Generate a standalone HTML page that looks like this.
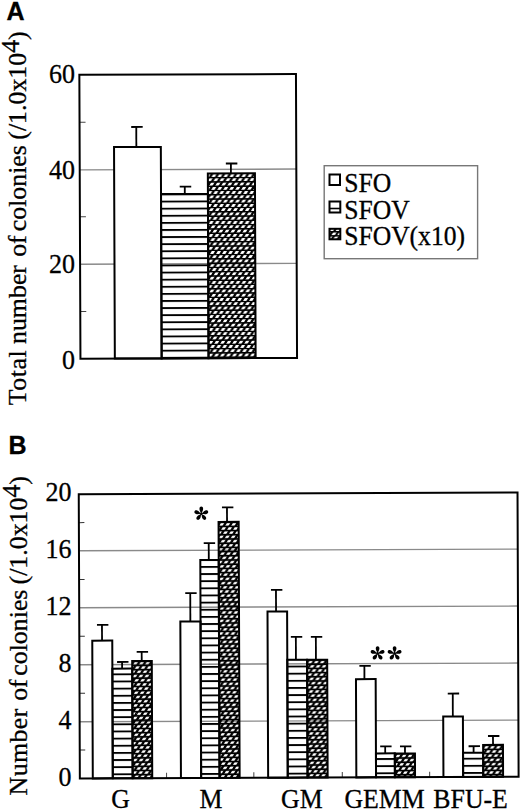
<!DOCTYPE html>
<html><head><meta charset="utf-8"><title>Figure</title>
<style>
html,body{margin:0;padding:0;background:#fff;}
body{width:520px;height:810px;overflow:hidden;font-family:"Liberation Serif",serif;}
svg{display:block;}
</style></head>
<body>
<svg width="520" height="810" viewBox="0 0 520 810">
<rect width="520" height="810" fill="#fff"/>
<defs>
<pattern id="hl" patternUnits="userSpaceOnUse" x="0" y="1.765" width="10" height="7.1"><rect y="0" width="10" height="1.85" fill="#000"/></pattern>
<pattern id="hlB" patternUnits="userSpaceOnUse" x="0" y="1.575" width="10" height="7.14"><rect y="0" width="10" height="1.85" fill="#000"/></pattern>
<pattern id="ht" patternUnits="userSpaceOnUse" x="-1.2" y="1.0" width="5.9" height="4.05" patternTransform="skewX(-45.7)"><path fill-rule="evenodd" fill="#000" d="M0,0 H5.9 V4.05 H0 Z M0.2,0.7 L3.6,0.7 L4.75,3.3 L1.35,3.3 Z"/></pattern>
</defs>
<g transform="rotate(-0.22 188 216)">
<line x1="79.9" y1="263.8" x2="296.5" y2="263.8" stroke="#8a8a8a" stroke-width="1.4"/>
<line x1="79.9" y1="169.44" x2="296.5" y2="169.44" stroke="#8a8a8a" stroke-width="1.4"/>
<line x1="79.9" y1="310.99" x2="85.9" y2="310.99" stroke="#444" stroke-width="1.0"/>
<line x1="79.9" y1="216.38" x2="85.9" y2="216.38" stroke="#444" stroke-width="1.0"/>
<line x1="79.9" y1="121.76" x2="85.9" y2="121.76" stroke="#444" stroke-width="1.0"/>
<line x1="136.6" y1="146.8" x2="136.6" y2="126.8" stroke="#000" stroke-width="1.8"/>
<line x1="131.55" y1="126.8" x2="143.05" y2="126.8" stroke="#000" stroke-width="1.8"/>
<line x1="184.9" y1="194.0" x2="184.9" y2="186.6" stroke="#000" stroke-width="1.8"/>
<line x1="179.85" y1="186.6" x2="191.35" y2="186.6" stroke="#000" stroke-width="1.8"/>
<line x1="231.1" y1="173.6" x2="231.1" y2="163.67" stroke="#000" stroke-width="1.8"/>
<line x1="226.05" y1="163.67" x2="237.55" y2="163.67" stroke="#000" stroke-width="1.8"/>
<rect x="114.3" y="146.8" width="46.80" height="211.50" fill="#fff" stroke="#000" stroke-width="2"/>
<rect x="161.1" y="194.0" width="46.90" height="164.30" fill="url(#hl)" stroke="#000" stroke-width="2"/>
<pattern id="ht1" patternUnits="userSpaceOnUse" x="2.099" y="2.500" width="6.0" height="4.275" patternTransform="skewX(-43.80)"><path fill-rule="evenodd" fill="#000" d="M0,0 H6.0 V4.275 H0 Z M0.356,0.8 L3.610,0.8 L4.729,3.475 L1.475,3.475 Z"/></pattern>
<rect x="208.0" y="173.6" width="47.10" height="184.70" fill="url(#ht1)" stroke="#000" stroke-width="2"/>
<rect x="79.9" y="74.45" width="216.60" height="283.85" fill="none" stroke="#000" stroke-width="2"/>
</g>
<text transform="translate(75,83.2) scale(1,1.02)" text-anchor="end" font-family="Liberation Serif, serif" font-size="26" stroke="#000" stroke-width="0.3">60</text>
<text transform="translate(75,178.7) scale(1,1.02)" text-anchor="end" font-family="Liberation Serif, serif" font-size="26" stroke="#000" stroke-width="0.3">40</text>
<text transform="translate(75,272.7) scale(1,1.02)" text-anchor="end" font-family="Liberation Serif, serif" font-size="26" stroke="#000" stroke-width="0.3">20</text>
<text transform="translate(75,368.7) scale(1,1.02)" text-anchor="end" font-family="Liberation Serif, serif" font-size="26" stroke="#000" stroke-width="0.3">0</text>
<text transform="translate(25.7,405.2) rotate(-90) scale(1,1.0)" font-family="Liberation Serif, serif" font-size="25.85" stroke="#000" stroke-width="0.3"><tspan dx="0 0.5 0.5 0.5 0.5">Total</tspan> number <tspan dx="1.7">of</tspan> <tspan dx="-2.4">colonies</tspan> <tspan dx="-1.0">(/1.0x10</tspan><tspan dy="-6.5">4</tspan><tspan dy="6.5">)</tspan></text>
<rect x="324.2" y="165.7" width="153.4" height="93.0" fill="none" stroke="#777" stroke-width="1.4"/>
<rect x="329.5" y="174.5" width="10.5" height="10.5" fill="#fff" stroke="#000" stroke-width="2"/>
<rect x="329.5" y="201.5" width="10.8" height="11" fill="#fff" stroke="#000" stroke-width="2"/>
<line x1="329.5" y1="208.5" x2="340.3" y2="208.5" stroke="#000" stroke-width="1.6"/>
<rect x="329.5" y="228.8" width="10.8" height="10.5" fill="url(#ht)" stroke="#000" stroke-width="2"/>
<text transform="translate(344.2,191.6) scale(1,1.06)" text-anchor="start" font-family="Liberation Serif, serif" font-size="25.6" stroke="#000" stroke-width="0.3">SFO</text>
<text transform="translate(344.2,218.5) scale(1,1.06)" text-anchor="start" font-family="Liberation Serif, serif" font-size="25.6" stroke="#000" stroke-width="0.3">SFOV</text>
<text transform="translate(344.2,244.8) scale(1,1.06)" text-anchor="start" font-family="Liberation Serif, serif" font-size="25.6" stroke="#000" stroke-width="0.3">SFOV(x10)</text>
<g transform="rotate(-0.22 298 636)">
<line x1="79.3" y1="549.95" x2="518.07" y2="549.95" stroke="#8a8a8a" stroke-width="1.4"/>
<line x1="79.3" y1="606.9" x2="518.07" y2="606.9" stroke="#8a8a8a" stroke-width="1.4"/>
<line x1="79.3" y1="663.9" x2="518.07" y2="663.9" stroke="#8a8a8a" stroke-width="1.4"/>
<line x1="79.3" y1="720.95" x2="518.07" y2="720.95" stroke="#8a8a8a" stroke-width="1.4"/>
<line x1="79.3" y1="749.22" x2="84.8" y2="749.22" stroke="#333" stroke-width="1.0"/>
<line x1="79.3" y1="692.37" x2="84.8" y2="692.37" stroke="#333" stroke-width="1.0"/>
<line x1="79.3" y1="635.51" x2="84.8" y2="635.51" stroke="#333" stroke-width="1.0"/>
<line x1="79.3" y1="578.65" x2="84.8" y2="578.65" stroke="#333" stroke-width="1.0"/>
<line x1="79.3" y1="521.80" x2="84.8" y2="521.80" stroke="#333" stroke-width="1.0"/>
<line x1="166.0" y1="777.65" x2="166.0" y2="772.15" stroke="#555" stroke-width="1.1"/>
<line x1="253.3" y1="777.65" x2="253.3" y2="772.15" stroke="#555" stroke-width="1.1"/>
<line x1="341.8" y1="777.65" x2="341.8" y2="772.15" stroke="#555" stroke-width="1.1"/>
<line x1="429.1" y1="777.65" x2="429.1" y2="772.15" stroke="#555" stroke-width="1.1"/>
<line x1="102.02" y1="639.85" x2="102.02" y2="624.15" stroke="#000" stroke-width="1.8"/>
<line x1="97.02" y1="624.15" x2="108.42" y2="624.15" stroke="#000" stroke-width="1.8"/>
<line x1="121.99" y1="667.92" x2="121.99" y2="661.32" stroke="#000" stroke-width="1.8"/>
<line x1="116.99" y1="661.32" x2="128.39" y2="661.32" stroke="#000" stroke-width="1.8"/>
<line x1="141.62" y1="660.4" x2="141.62" y2="651.3" stroke="#000" stroke-width="1.8"/>
<line x1="136.62" y1="651.3" x2="148.02" y2="651.3" stroke="#000" stroke-width="1.8"/>
<rect x="92.25" y="639.85" width="20.00" height="137.80" fill="#fff" stroke="#000" stroke-width="2"/>
<rect x="112.25" y="667.92" width="19.85" height="109.73" fill="url(#hlB)" stroke="#000" stroke-width="2"/>
<pattern id="ht2" patternUnits="userSpaceOnUse" x="3.583" y="1.300" width="6.0" height="4.2" patternTransform="skewX(-45.00)"><path fill-rule="evenodd" fill="#000" d="M0,0 H6.0 V4.2 H0 Z M0.356,0.8 L3.610,0.8 L4.729,3.400 L1.475,3.400 Z"/></pattern>
<rect x="132.1" y="660.4" width="19.60" height="117.25" fill="url(#ht2)" stroke="#000" stroke-width="2"/>
<line x1="190.41" y1="621.09" x2="190.41" y2="592.69" stroke="#000" stroke-width="1.8"/>
<line x1="185.41" y1="592.69" x2="196.81" y2="592.69" stroke="#000" stroke-width="1.8"/>
<line x1="209.08" y1="559.66" x2="209.08" y2="542.86" stroke="#000" stroke-width="1.8"/>
<line x1="204.08" y1="542.86" x2="215.48" y2="542.86" stroke="#000" stroke-width="1.8"/>
<line x1="227.47" y1="521.63" x2="227.47" y2="507.13" stroke="#000" stroke-width="1.8"/>
<line x1="222.47" y1="507.13" x2="233.87" y2="507.13" stroke="#000" stroke-width="1.8"/>
<rect x="180.4" y="621.09" width="20.20" height="156.56" fill="#fff" stroke="#000" stroke-width="2"/>
<rect x="200.6" y="559.66" width="18.40" height="217.99" fill="url(#hlB)" stroke="#000" stroke-width="2"/>
<pattern id="ht3" patternUnits="userSpaceOnUse" x="5.713" y="1.130" width="6.0" height="4.2" patternTransform="skewX(-45.00)"><path fill-rule="evenodd" fill="#000" d="M0,0 H6.0 V4.2 H0 Z M0.356,0.8 L3.610,0.8 L4.729,3.400 L1.475,3.400 Z"/></pattern>
<rect x="219.0" y="521.63" width="20.10" height="256.02" fill="url(#ht3)" stroke="#000" stroke-width="2"/>
<line x1="276.14" y1="611.42" x2="276.14" y2="589.82" stroke="#000" stroke-width="1.8"/>
<line x1="271.14" y1="589.82" x2="282.54" y2="589.82" stroke="#000" stroke-width="1.8"/>
<line x1="295.85" y1="659.7" x2="295.85" y2="636.89" stroke="#000" stroke-width="1.8"/>
<line x1="290.85" y1="636.89" x2="302.25" y2="636.89" stroke="#000" stroke-width="1.8"/>
<line x1="315.85" y1="659.77" x2="315.85" y2="636.97" stroke="#000" stroke-width="1.8"/>
<line x1="310.85" y1="636.97" x2="322.25" y2="636.97" stroke="#000" stroke-width="1.8"/>
<rect x="267.6" y="611.42" width="19.60" height="166.23" fill="#fff" stroke="#000" stroke-width="2"/>
<rect x="287.2" y="659.7" width="19.80" height="117.95" fill="url(#hlB)" stroke="#000" stroke-width="2"/>
<pattern id="ht4" patternUnits="userSpaceOnUse" x="3.853" y="0.670" width="6.0" height="4.2" patternTransform="skewX(-45.00)"><path fill-rule="evenodd" fill="#000" d="M0,0 H6.0 V4.2 H0 Z M0.356,0.8 L3.610,0.8 L4.729,3.400 L1.475,3.400 Z"/></pattern>
<rect x="307.0" y="659.77" width="20.10" height="117.88" fill="url(#ht4)" stroke="#000" stroke-width="2"/>
<line x1="364.26" y1="679.36" x2="364.26" y2="666.16" stroke="#000" stroke-width="1.8"/>
<line x1="359.26" y1="666.16" x2="370.66" y2="666.16" stroke="#000" stroke-width="1.8"/>
<line x1="384.76" y1="753.73" x2="384.76" y2="746.73" stroke="#000" stroke-width="1.8"/>
<line x1="379.76" y1="746.73" x2="391.16" y2="746.73" stroke="#000" stroke-width="1.8"/>
<line x1="404.56" y1="753.91" x2="404.56" y2="746.81" stroke="#000" stroke-width="1.8"/>
<line x1="399.56" y1="746.81" x2="410.96" y2="746.81" stroke="#000" stroke-width="1.8"/>
<rect x="355.8" y="679.36" width="19.70" height="98.29" fill="#fff" stroke="#000" stroke-width="2"/>
<rect x="375.5" y="753.73" width="18.85" height="23.92" fill="url(#hlB)" stroke="#000" stroke-width="2"/>
<pattern id="ht5" patternUnits="userSpaceOnUse" x="5.343" y="2.410" width="6.0" height="4.2" patternTransform="skewX(-45.00)"><path fill-rule="evenodd" fill="#000" d="M0,0 H6.0 V4.2 H0 Z M0.356,0.8 L3.610,0.8 L4.729,3.400 L1.475,3.400 Z"/></pattern>
<rect x="394.35" y="753.91" width="20.15" height="23.74" fill="url(#ht5)" stroke="#000" stroke-width="2"/>
<line x1="452.53" y1="717.1" x2="452.53" y2="694.1" stroke="#000" stroke-width="1.8"/>
<line x1="447.53" y1="694.1" x2="458.93" y2="694.1" stroke="#000" stroke-width="1.8"/>
<line x1="473.16" y1="753.47" x2="473.16" y2="746.88" stroke="#000" stroke-width="1.8"/>
<line x1="468.16" y1="746.88" x2="479.56" y2="746.88" stroke="#000" stroke-width="1.8"/>
<line x1="492.6" y1="745.65" x2="492.6" y2="736.75" stroke="#000" stroke-width="1.8"/>
<line x1="487.60" y1="736.75" x2="499.00" y2="736.75" stroke="#000" stroke-width="1.8"/>
<rect x="442.9" y="717.1" width="19.70" height="60.55" fill="#fff" stroke="#000" stroke-width="2"/>
<rect x="462.6" y="753.47" width="20.10" height="24.18" fill="url(#hlB)" stroke="#000" stroke-width="2"/>
<pattern id="ht6" patternUnits="userSpaceOnUse" x="1.433" y="2.550" width="6.0" height="4.2" patternTransform="skewX(-45.00)"><path fill-rule="evenodd" fill="#000" d="M0,0 H6.0 V4.2 H0 Z M0.356,0.8 L3.610,0.8 L4.729,3.400 L1.475,3.400 Z"/></pattern>
<rect x="482.7" y="745.65" width="19.85" height="32.00" fill="url(#ht6)" stroke="#000" stroke-width="2"/>
<rect x="79.3" y="493.37" width="438.77" height="284.28" fill="none" stroke="#000" stroke-width="2"/>
</g>
<text transform="translate(71.5,500.79999999999995) scale(1,1.04)" text-anchor="end" font-family="Liberation Serif, serif" font-size="26" stroke="#000" stroke-width="0.3">20</text>
<text transform="translate(71.5,557.9) scale(1,1.04)" text-anchor="end" font-family="Liberation Serif, serif" font-size="26" stroke="#000" stroke-width="0.3">16</text>
<text transform="translate(71.5,615.4) scale(1,1.04)" text-anchor="end" font-family="Liberation Serif, serif" font-size="26" stroke="#000" stroke-width="0.3">12</text>
<text transform="translate(71.5,672.4) scale(1,1.04)" text-anchor="end" font-family="Liberation Serif, serif" font-size="26" stroke="#000" stroke-width="0.3">8</text>
<text transform="translate(71.5,729.4) scale(1,1.04)" text-anchor="end" font-family="Liberation Serif, serif" font-size="26" stroke="#000" stroke-width="0.3">4</text>
<text transform="translate(71.5,786.4) scale(1,1.04)" text-anchor="end" font-family="Liberation Serif, serif" font-size="26" stroke="#000" stroke-width="0.3">0</text>
<text transform="translate(26.7,795.4) rotate(-90) scale(1,1.0)" font-family="Liberation Serif, serif" font-size="25.85" stroke="#000" stroke-width="0.3"><tspan dx="0 0.4 0.4 0.4 0.4 0.4">Number</tspan> <tspan dx="1.4">of</tspan> <tspan dx="-2.9">colonies</tspan> <tspan dx="-1.3">(/1.0x10</tspan><tspan dy="-6.5">4</tspan><tspan dy="6.5">)</tspan></text>
<text transform="translate(120.5,807.5) scale(1,1.04)" text-anchor="middle" font-family="Liberation Serif, serif" font-size="25.8" stroke="#000" stroke-width="0.3">G</text>
<text transform="translate(210.9,807.5) scale(1,1.04)" text-anchor="middle" font-family="Liberation Serif, serif" font-size="25.8" stroke="#000" stroke-width="0.3">M</text>
<text transform="translate(301.8,807.5) scale(1,1.04)" text-anchor="middle" font-family="Liberation Serif, serif" font-size="25.8" stroke="#000" stroke-width="0.3">GM</text>
<text transform="translate(384.6,807.5) scale(1,1.04)" text-anchor="middle" font-family="Liberation Serif, serif" font-size="25.8" stroke="#000" stroke-width="0.3">GEMM</text>
<text transform="translate(470.6,807.5) scale(1,1.04)" text-anchor="middle" font-family="Liberation Serif, serif" font-size="25.8" stroke="#000" stroke-width="0.3">BFU-E</text>
<g transform="translate(201.3,513.8) scale(1.0)" fill="#000">
<path transform="rotate(0)" d="M0,0 C-0.5,-1.6 -1.85,-3.3 -1.85,-4.9 C-1.85,-6.3 -1.0,-7.2 0,-7.2 C1.0,-7.2 1.85,-6.3 1.85,-4.9 C1.85,-3.3 0.5,-1.6 0,0 Z"/>
<path transform="rotate(72)" d="M0,0 C-0.5,-1.6 -1.85,-3.3 -1.85,-4.9 C-1.85,-6.3 -1.0,-7.2 0,-7.2 C1.0,-7.2 1.85,-6.3 1.85,-4.9 C1.85,-3.3 0.5,-1.6 0,0 Z"/>
<path transform="rotate(144)" d="M0,0 C-0.5,-1.6 -1.85,-3.3 -1.85,-4.9 C-1.85,-6.3 -1.0,-7.2 0,-7.2 C1.0,-7.2 1.85,-6.3 1.85,-4.9 C1.85,-3.3 0.5,-1.6 0,0 Z"/>
<path transform="rotate(216)" d="M0,0 C-0.5,-1.6 -1.85,-3.3 -1.85,-4.9 C-1.85,-6.3 -1.0,-7.2 0,-7.2 C1.0,-7.2 1.85,-6.3 1.85,-4.9 C1.85,-3.3 0.5,-1.6 0,0 Z"/>
<path transform="rotate(288)" d="M0,0 C-0.5,-1.6 -1.85,-3.3 -1.85,-4.9 C-1.85,-6.3 -1.0,-7.2 0,-7.2 C1.0,-7.2 1.85,-6.3 1.85,-4.9 C1.85,-3.3 0.5,-1.6 0,0 Z"/>
<circle r="1.3"/></g>
<g transform="translate(377.6,653.4) scale(1.0)" fill="#000">
<path transform="rotate(0)" d="M0,0 C-0.5,-1.6 -1.85,-3.3 -1.85,-4.9 C-1.85,-6.3 -1.0,-7.2 0,-7.2 C1.0,-7.2 1.85,-6.3 1.85,-4.9 C1.85,-3.3 0.5,-1.6 0,0 Z"/>
<path transform="rotate(72)" d="M0,0 C-0.5,-1.6 -1.85,-3.3 -1.85,-4.9 C-1.85,-6.3 -1.0,-7.2 0,-7.2 C1.0,-7.2 1.85,-6.3 1.85,-4.9 C1.85,-3.3 0.5,-1.6 0,0 Z"/>
<path transform="rotate(144)" d="M0,0 C-0.5,-1.6 -1.85,-3.3 -1.85,-4.9 C-1.85,-6.3 -1.0,-7.2 0,-7.2 C1.0,-7.2 1.85,-6.3 1.85,-4.9 C1.85,-3.3 0.5,-1.6 0,0 Z"/>
<path transform="rotate(216)" d="M0,0 C-0.5,-1.6 -1.85,-3.3 -1.85,-4.9 C-1.85,-6.3 -1.0,-7.2 0,-7.2 C1.0,-7.2 1.85,-6.3 1.85,-4.9 C1.85,-3.3 0.5,-1.6 0,0 Z"/>
<path transform="rotate(288)" d="M0,0 C-0.5,-1.6 -1.85,-3.3 -1.85,-4.9 C-1.85,-6.3 -1.0,-7.2 0,-7.2 C1.0,-7.2 1.85,-6.3 1.85,-4.9 C1.85,-3.3 0.5,-1.6 0,0 Z"/>
<circle r="1.3"/></g>
<g transform="translate(394.6,653.4) scale(1.0)" fill="#000">
<path transform="rotate(0)" d="M0,0 C-0.5,-1.6 -1.85,-3.3 -1.85,-4.9 C-1.85,-6.3 -1.0,-7.2 0,-7.2 C1.0,-7.2 1.85,-6.3 1.85,-4.9 C1.85,-3.3 0.5,-1.6 0,0 Z"/>
<path transform="rotate(72)" d="M0,0 C-0.5,-1.6 -1.85,-3.3 -1.85,-4.9 C-1.85,-6.3 -1.0,-7.2 0,-7.2 C1.0,-7.2 1.85,-6.3 1.85,-4.9 C1.85,-3.3 0.5,-1.6 0,0 Z"/>
<path transform="rotate(144)" d="M0,0 C-0.5,-1.6 -1.85,-3.3 -1.85,-4.9 C-1.85,-6.3 -1.0,-7.2 0,-7.2 C1.0,-7.2 1.85,-6.3 1.85,-4.9 C1.85,-3.3 0.5,-1.6 0,0 Z"/>
<path transform="rotate(216)" d="M0,0 C-0.5,-1.6 -1.85,-3.3 -1.85,-4.9 C-1.85,-6.3 -1.0,-7.2 0,-7.2 C1.0,-7.2 1.85,-6.3 1.85,-4.9 C1.85,-3.3 0.5,-1.6 0,0 Z"/>
<path transform="rotate(288)" d="M0,0 C-0.5,-1.6 -1.85,-3.3 -1.85,-4.9 C-1.85,-6.3 -1.0,-7.2 0,-7.2 C1.0,-7.2 1.85,-6.3 1.85,-4.9 C1.85,-3.3 0.5,-1.6 0,0 Z"/>
<circle r="1.3"/></g>
<text transform="translate(6.5,19.6) scale(1,1.065)" text-anchor="start" font-family="Liberation Sans, sans-serif" font-size="25" font-weight="bold" stroke="#000" stroke-width="0.3">A</text>
<text transform="translate(8.4,453.8) scale(1,1.06)" text-anchor="start" font-family="Liberation Sans, sans-serif" font-size="25" font-weight="bold" stroke="#000" stroke-width="0.3">B</text>
</svg>
</body></html>
